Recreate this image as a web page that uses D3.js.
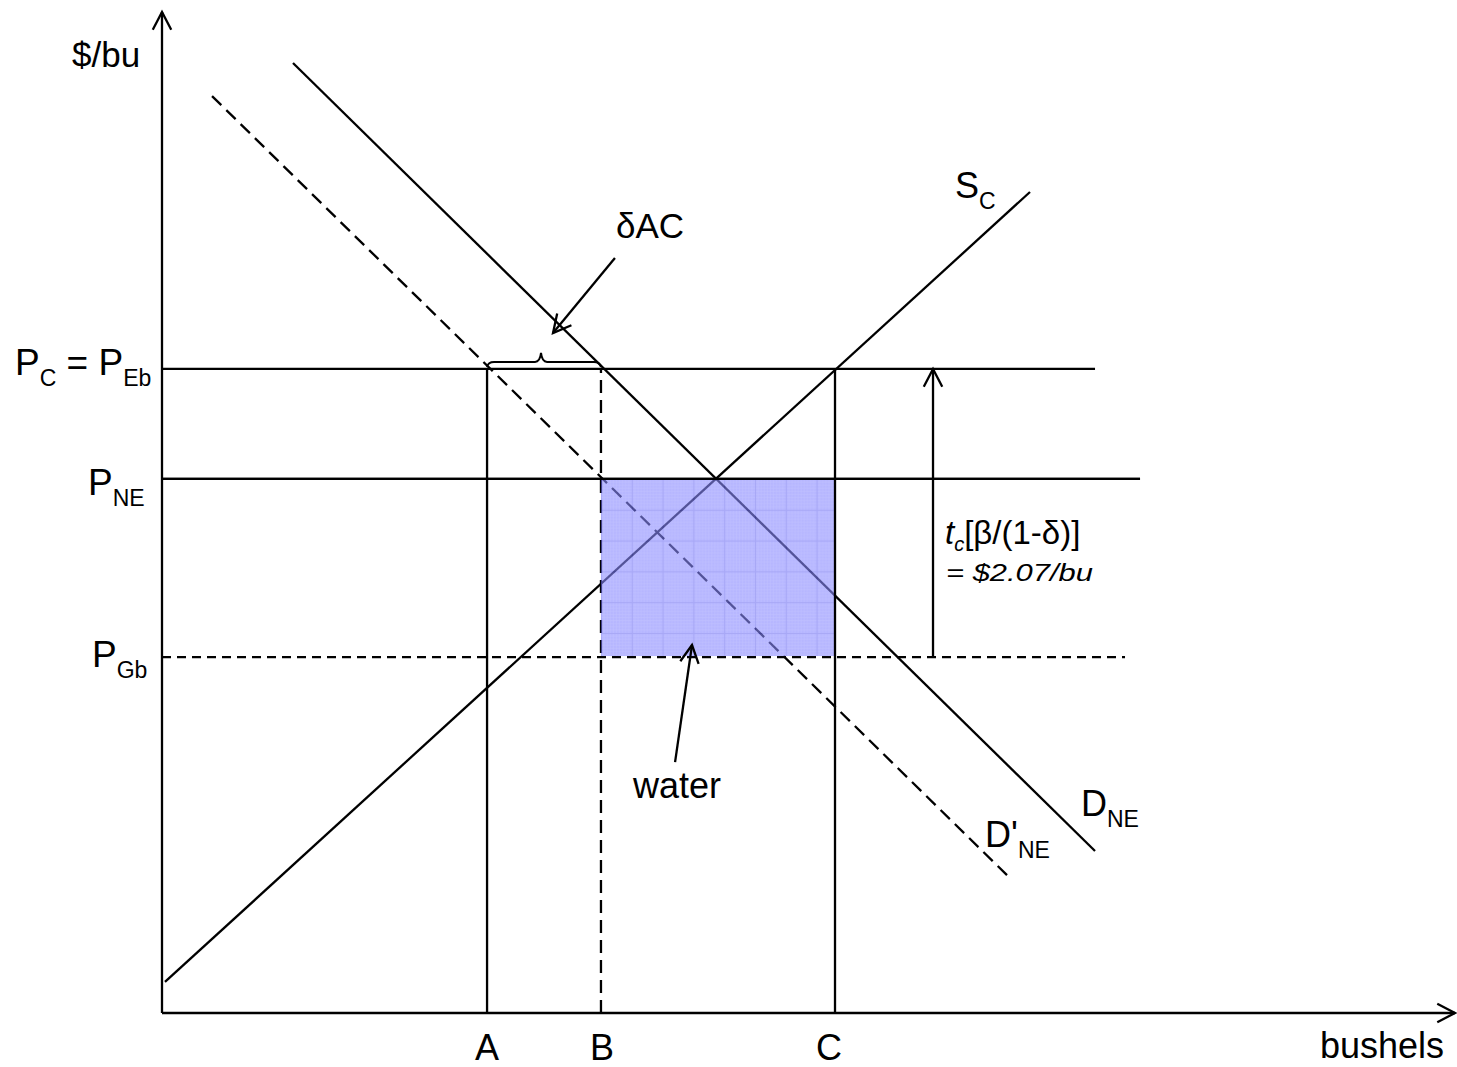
<!DOCTYPE html>
<html>
<head>
<meta charset="utf-8">
<script src="https://cdn.jsdelivr.net/npm/d3@7"></script>
<style>
  body { margin: 0; background: #fff; }
  text { font-family: "Liberation Sans", Arial, sans-serif; fill: #000; }
</style>
</head>
<body>
<svg id="chart" width="1457" height="1067"></svg>
<script>
// quantities marked on the x axis (chart units 0..100)
const qNames = ["A", "B", "C"];
const qValues = [25.14, 33.95, 52.05];

// price levels (chart units 0..100) and where each horizontal line stops
const priceNames = ["PC", "PNE", "PGb"];
const priceValues = [64.34, 53.35, 35.56];
const priceLineEnds = [72.16, 75.64, 74.48];

// curves as [q, p] end points
const supplyC = [[0.23, 3.1], [67.13, 82.02]];
const demandNE = [[10.13, 94.9], [72.16, 16.18]];
const demandNEprime = [[3.87, 91.6], [65.58, 13.49]];

// tax wedge position and value
const wedgeQ = 59.63;
const wedgeValue = 2.07;

// annotation arrows [tail, head]
const deltaArrow = [[35.03, 75.42], [30.24, 67.93]];
const waterArrow = [[39.68, 25.07], [40.99, 36.76]];

const svg = d3.select("#chart");
const x = d3.scaleLinear().domain([0, 100]).range([162, 1455]);
const y = d3.scaleLinear().domain([0, 100]).range([1013, 12]);

const line = d3.line().x(d => x(d[0])).y(d => y(d[1]));

function seg(a, b, dash, w) {
    return svg.append("path")
        .attr("d", line([a, b]))
        .attr("fill", "none")
        .attr("stroke", "#000")
        .attr("stroke-width", w || 2.3)
        .attr("stroke-dasharray", dash || null);
}

// open V arrowhead at b, pointing away from a
function head(a, b) {
    var tx = x(b[0]), ty = y(b[1]);
    var ang = Math.atan2(ty - y(a[1]), tx - x(a[0]));
    var len = 20, spread = 0.48;
    var p1 = [tx - len * Math.cos(ang - spread), ty - len * Math.sin(ang - spread)];
    var p2 = [tx - len * Math.cos(ang + spread), ty - len * Math.sin(ang + spread)];
    svg.append("path")
        .attr("d", "M" + p1 + "L" + tx + "," + ty + "L" + p2)
        .attr("fill", "none")
        .attr("stroke", "#000")
        .attr("stroke-width", 2.3);
}

// axes
seg([0, 0], [0, 100]);
head([0, 0], [0, 100]);
seg([0, 0], [100, 0]);
head([0, 0], [100, 0]);

// price lines
priceValues.forEach(function (p, i) {
    seg([0, p], [priceLineEnds[i], p], i == 2 ? "9,6" : null);
});

// quantity verticals A and B (C drawn later above the shading)
seg([qValues[0], 0], [qValues[0], priceValues[0]]);
seg([qValues[1], 0], [qValues[1], priceValues[0]], "13,7");

// curves
seg(supplyC[0], supplyC[1]);
seg(demandNE[0], demandNE[1]);
seg(demandNEprime[0], demandNEprime[1], "13,7");

// shaded "water" rectangle with grid pattern
var rx = x(qValues[1]), ry = y(priceValues[1]);
var rw = x(qValues[2]) - rx, rh = y(priceValues[2]) - ry;
var defs = svg.append("defs");
var pat = defs.append("pattern")
    .attr("id", "grid")
    .attr("patternUnits", "userSpaceOnUse")
    .attr("x", rx).attr("y", ry)
    .attr("width", 30.8).attr("height", 30.8);
pat.append("rect").attr("width", 30.8).attr("height", 30.8).attr("fill", "rgb(133,133,255)");
d3.range(0, 30.8, 3.08).forEach(function (v) {
    pat.append("line").attr("x1", v).attr("x2", v).attr("y1", 0).attr("y2", 30.8)
        .attr("stroke", "rgb(150,150,255)").attr("stroke-width", 0.6);
    pat.append("line").attr("y1", v).attr("y2", v).attr("x1", 0).attr("x2", 30.8)
        .attr("stroke", "rgb(150,150,255)").attr("stroke-width", 0.6);
});
pat.append("path").attr("d", "M0,0.5H30.8M0.5,0V30.8")
    .attr("stroke", "rgb(110,110,240)").attr("stroke-width", 1);
svg.append("rect")
    .attr("x", rx).attr("y", ry + 1)
    .attr("width", rw).attr("height", rh - 2)
    .attr("fill", "url(#grid)")
    .attr("opacity", 0.6);

// lines on top of the shading
seg([qValues[2], 0], [qValues[2], priceValues[0]]);
seg([0, priceValues[1]], [priceLineEnds[1], priceValues[1]]);

// tax wedge arrow
seg([wedgeQ, priceValues[2]], [wedgeQ, priceValues[0]]);
head([wedgeQ, priceValues[2]], [wedgeQ, priceValues[0]]);

// δAC brace between A and B
var bx0 = x(qValues[0]), bx1 = x(qValues[1]), by = y(priceValues[0]);
var bm = (bx0 + bx1) / 2 - 3;
svg.append("path")
    .attr("d", "M" + bx0 + "," + (by - 2) + "Q" + (bx0 + 1) + "," + (by - 7) + " " + (bx0 + 7) + "," + (by - 7)
        + "H" + (bm - 6) + "Q" + (bm - 1) + "," + (by - 7) + " " + bm + "," + (by - 16)
        + "Q" + (bm + 1) + "," + (by - 7) + " " + (bm + 6) + "," + (by - 7)
        + "H" + (bx1 - 7) + "Q" + (bx1 - 1) + "," + (by - 7) + " " + bx1 + "," + (by - 2))
    .attr("fill", "none").attr("stroke", "#000").attr("stroke-width", 2);

seg(deltaArrow[0], deltaArrow[1]);
head(deltaArrow[0], deltaArrow[1]);
seg(waterArrow[0], waterArrow[1]);
head(waterArrow[0], waterArrow[1]);

// labels
function label(tx, ty, main, sub, size, subSize, anchor) {
    var t = svg.append("text").attr("x", tx).attr("y", ty)
        .attr("font-size", size).attr("text-anchor", anchor || "start");
    t.append("tspan").text(main);
    if (sub) t.append("tspan").attr("font-size", subSize || 20).attr("dy", 11).text(sub);
    return t;
}

label(x(qValues[0]), 1060, qNames[0], null, 36, null, "middle");
label(x(qValues[1]) + 1, 1060, qNames[1], null, 36, null, "middle");
label(x(qValues[2]) - 6, 1060, qNames[2], null, 36, null, "middle");
label(1320, 1058, "bushels", null, 36);
label(72, 67, "$/bu", null, 35);

var pc = label(15, 375, "P", "C", 37, 23);
pc.append("tspan").attr("dy", -11).text(" = P");
pc.append("tspan").attr("font-size", 23).attr("dy", 11).text("Eb");
label(88, 495, "P", "NE", 37, 23);
label(92, 667, "P", "Gb", 37, 23);

label(955, 198, "S", "C", 36, 23);
label(1081, 816, "D", "NE", 36, 23);
label(985, 847, "D'", "NE", 36, 23);

label(616, 238, "δAC", null, 35);
label(633, 798, "water", null, 36);

var tc = svg.append("text").attr("x", 945).attr("y", 544).attr("font-size", 33);
tc.append("tspan").attr("font-style", "italic").text("t");
tc.append("tspan").attr("font-style", "italic").attr("font-size", 20).attr("dy", 7).text("c");
tc.append("tspan").attr("dy", -7).text("[β/(1-δ)]");
svg.append("text").attr("x", 946).attr("y", 581)
    .attr("font-size", 23).attr("font-style", "italic")
    .attr("textLength", 147).attr("lengthAdjust", "spacingAndGlyphs")
    .text("= $" + wedgeValue.toFixed(2) + "/bu");
</script>
</body>
</html>
